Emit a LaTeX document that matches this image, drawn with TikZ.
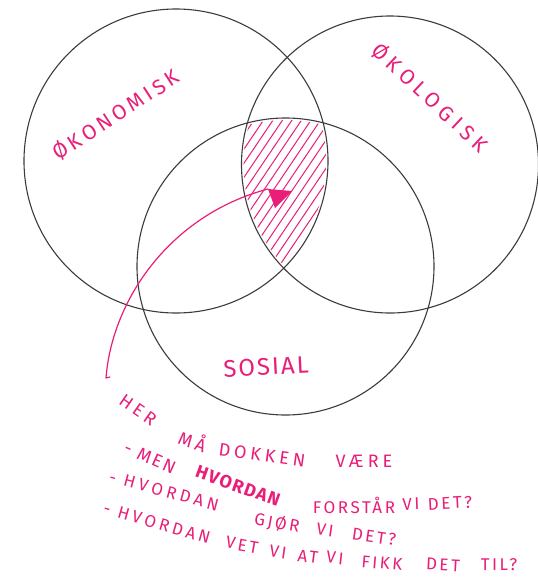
\documentclass[tikz,border=0pt]{standalone}
\usepackage{fontspec}
\newfontfamily\hand{Fira Sans}
\definecolor{pinkc}{RGB}{232,30,120}
\definecolor{ringc}{RGB}{60,60,60}
\tikzset{
  ring/.style={draw=ringc, line width=1.1pt},
  hatch/.style={draw=pinkc, line width=1pt, line cap=round},
  pinkline/.style={draw=pinkc, line width=1.2pt, line cap=round, line join=round},
  big/.style={text=pinkc, inner sep=0pt, font=\hand\fontsize{21}{21}\selectfont\addfontfeature{LetterSpace=18}},
  word/.style={text=pinkc, inner sep=0pt, font=\hand\fontsize{18}{18}\selectfont\addfontfeature{LetterSpace=22}},
  wordc/.style={text=pinkc, inner sep=0pt, font=\hand\fontsize{17}{17}\selectfont\addfontfeature{LetterSpace=15}},
  wordb/.style={text=pinkc, inner sep=0pt, font=\hand\bfseries\fontsize{18}{18}\selectfont\addfontfeature{LetterSpace=8}},
}
\begin{document}
\begin{tikzpicture}[x=1pt,y=-1pt]
\useasboundingbox (0,0) rectangle (538,579);
\fill[white] (0,0) rectangle (538,579);
% hatching in the triple intersection
\begin{scope}
  \clip (176,161) circle (150);
  \clip (390,164.5) circle (146.5);
  \clip (285.5,266.5) circle (146.5);
  \foreach \i in {130,139.5,...,360} {
    \draw[hatch] (\i,290) -- ++(120,-178);
  }
\end{scope}
% circles
\draw[ring] (176,161) circle (152);
\draw[ring] (390,164.5) circle (148.5);
\draw[ring] (285.5,266.5) circle (148.5);
% labels
\node[big, rotate=33] (oko) at (116,115) {ØKONOMISK};
\node[big, font=\hand\fontsize{21}{21}\selectfont\addfontfeature{LetterSpace=24}, rotate=-43] (eko) at (430,98) {ØKOLOGISK};
\node[big, font=\hand\fontsize{24}{24}\selectfont\addfontfeature{LetterSpace=8}, rotate=3] (sos) at (266,367) {SOSIAL};
% arrow
\coordinate (foot) at (110,377);
\coordinate (start) at (106,378);
\coordinate (tipA) at (268,189);
\coordinate (tipB) at (292,191);
\coordinate (tipC) at (275,208);
\draw[pinkline] (foot) -- (start) .. controls (112,300) and (170,215) .. (tipA);
\fill[pinkc] (tipA) -- (tipB) -- (tipC) -- cycle;
% line 1
\node[word, rotate=-35] (a1) at (138,410) {HER};
\node[word, rotate=-20] (a2) at (193,440) {MÅ};
\node[word, rotate=-8] (a3) at (262,455) {DOKKEN};
\node[word, rotate=0] (a4) at (364,461) {VÆRE};
% line 2
\node[wordc, font=\hand\fontsize{18}{18}\selectfont\addfontfeature{LetterSpace=12}, rotate=-24] (b1) at (150,458) {- MEN};
\node[wordb, rotate=-20] (b2) at (238,486) {HVORDAN};
\node[wordc, rotate=0] (b3) at (354,505) {FORSTÅR};
\node[wordc, rotate=2] (b4) at (411,504) {VI};
\node[wordc, rotate=3] (b5) at (450,503) {DET?};
% line 3
\node[wordc, font=\hand\fontsize{17}{17}\selectfont\addfontfeature{LetterSpace=22}, rotate=-15] (c1) at (164,491) {- HVORDAN};
\node[wordc, rotate=-10] (c2) at (277,523) {GJØR};
\node[wordc, rotate=-8] (c3) at (325,530) {VI};
\node[wordc, rotate=-8] (c4) at (374,537) {DET?};
% line 4
\node[wordc, font=\hand\fontsize{17}{17}\selectfont\addfontfeature{LetterSpace=20}, rotate=-16] (d1) at (157,523) {- HVORDAN};
\node[wordc, rotate=-10] (d2) at (242,545) {VET};
\node[wordc, rotate=-8] (d3) at (278,552) {VI};
\node[wordc, rotate=-7] (d4) at (308,557) {AT};
\node[wordc, rotate=-6] (d5) at (335,558) {VI};
\node[wordc, rotate=-5] (d6) at (382,563) {FIKK};
\node[wordc, rotate=-3] (d7) at (443,565) {DET};
\node[wordc, rotate=0] (d8) at (499,565) {TIL?};
\end{tikzpicture}
\end{document}
